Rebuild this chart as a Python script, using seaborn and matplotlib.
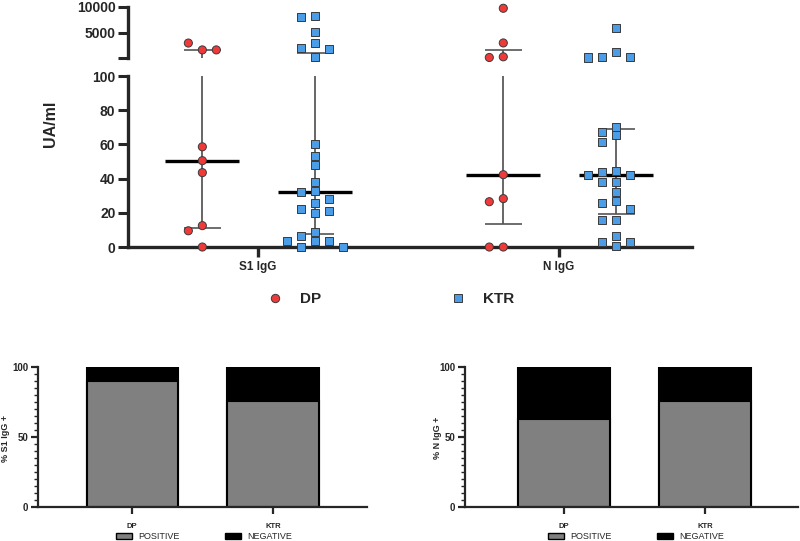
import numpy as np
import pandas as pd
import matplotlib
matplotlib.use('Agg')
import matplotlib.pyplot as plt
from matplotlib.lines import Line2D
from matplotlib.patches import Patch
from matplotlib.ticker import MultipleLocator
import seaborn as sns

# ---- data ----
assays = ['S1 IgG', 'N IgG']
groups = ['DP', 'KTR']

s1_dp = [1670, 3000, 1670, 58.6, 50.5, 43.5, 12.5, 9.5, 0]
s1_ktr = [8270, 8135, 5190, 3020, 1990, 1870, 250, 60.2, 53.2, 47.8, 38, 32.9, 32,
          28.3, 25.5, 22.4, 20.9, 19.7, 8.6, 6.6, 3.7, 3.7, 3.7, 0, 0]
n_dp = [9750, 3020, 330, 200, 42.3, 28.3, 26.5, 0, 0]
n_ktr = [5960, 1210, 330, 330, 200, 70.2, 67.4, 65.3, 61.6, 44.3, 43.9, 42.3, 42.3,
         38.2, 38, 32.2, 26.7, 25.9, 22.2, 16, 15.8, 6.6, 2.7, 2.7, 0.6]

pct_labels = ['% S1 IgG +', '% N IgG +']
s1_positive = [90, 76]
s1_negative = [10, 24]
n_positive = [63, 76]
n_negative = [37, 24]
status_labels = ['POSITIVE', 'NEGATIVE']

values = {('S1 IgG', 'DP'): s1_dp, ('S1 IgG', 'KTR'): s1_ktr,
          ('N IgG', 'DP'): n_dp, ('N IgG', 'KTR'): n_ktr}

# ---- style ----
red = '#F03A3A'
blue = '#4C9DE8'
grey_bar = '#808080'
group_offset = {'DP': -0.185, 'KTR': 0.19}
slot_w = 0.0465
split = 100


def spread(vals, px_per_unit, min_gap=8):
    # greedy column layout, like a scatter dot plot
    placed, slots = [], []
    for v in vals:
        y = v * px_per_unit
        for k in [0, -1, 1, -2, 2, -3, 3]:
            if all(abs(y - py) >= min_gap for py, s in placed if s == k):
                break
        placed.append((y, k))
        slots.append(k)
    return slots


rows = []
for i, assay in enumerate(assays):
    for g in groups:
        vals = values[(assay, g)]
        lo = [v for v in vals if v <= split]
        hi = [v for v in vals if v > split]
        for part, sub, ppu in [('lo', lo, 1.71), ('hi', hi, 51 / 9900)]:
            for v, k in zip(sub, spread(sub, ppu)):
                rows.append(dict(assay=assay, group=g, value=v, panel=part,
                                 x=i + group_offset[g] + k * slot_w))
df = pd.DataFrame(rows)

sns.set_style('ticks')
plt.rcParams['font.family'] = ['Liberation Sans', 'DejaVu Sans']

fig = plt.figure(figsize=(8, 5.41), dpi=100)
ax_hi = fig.add_axes([0.16, 0.8928, 0.705, 0.0943])
ax_lo = fig.add_axes([0.16, 0.5434, 0.705, 0.3161])
limits = {'hi': (100, 10000), 'lo': (0, 100)}

for ax, part in [(ax_hi, 'hi'), (ax_lo, 'lo')]:
    y0, y1 = limits[part]
    sns.scatterplot(data=df[df.panel == part], x='x', y='value', hue='group', style='group',
                    hue_order=groups, style_order=groups,
                    markers={'DP': 'o', 'KTR': 's'}, palette={'DP': red, 'KTR': blue},
                    s=34, edgecolor='#3a3a3a', linewidth=0.7, legend=False,
                    ax=ax, zorder=4, clip_on=False)
    # median with interquartile range
    for i, assay in enumerate(assays):
        for g in groups:
            q1, med, q3 = np.percentile(values[(assay, g)], [25, 50, 75], method='weibull')
            xc = i + group_offset[g]
            ax.vlines(xc, max(q1, y0), min(q3, y1), color='#4d4d4d', lw=1.2, zorder=2)
            for q in (q1, q3):
                if y0 <= q <= y1:
                    ax.hlines(q, xc - 0.061, xc + 0.061, color='#555555', lw=1.2, zorder=2)
            if y0 <= med <= y1:
                ax.hlines(med, xc - 0.123, xc + 0.123, color='black', lw=2.4, zorder=3)
    ax.set_xlim(-0.432, 1.442)
    ax.set_ylim(y0, y1)
    ax.set_xlabel('')
    ax.set_ylabel('')
    for s in ['top', 'right']:
        ax.spines[s].set_visible(False)
    ax.spines['left'].set_linewidth(2.4)
    ax.tick_params(axis='y', width=2.2, length=7, pad=2, labelsize=10)

ax_lo.set_yticks(range(0, 101, 20))
ax_lo.set_yticklabels([str(t) for t in range(0, 101, 20)], fontweight='bold')
ax_lo.set_xticks([0, 1])
ax_lo.set_xticklabels(assays, fontweight='bold', fontsize=8.5)
ax_lo.spines['bottom'].set_linewidth(2.4)
ax_lo.tick_params(axis='x', width=2.4, length=7, pad=3)

ax_hi.set_yticks([100, 5000, 10000])
ax_hi.set_yticklabels(['', '5000', '10000'], fontweight='bold')
ax_hi.spines['bottom'].set_visible(False)
ax_hi.set_xticks([])

fig.text(51 / 800, 1 - 124 / 541, 'UA/ml', rotation=90, ha='center', va='center',
         fontsize=11.5, fontweight='bold')

handles = [Line2D([], [], ls='', marker='o', markersize=6, markerfacecolor=red,
                  markeredgecolor='#3a3a3a', markeredgewidth=0.7),
           Line2D([], [], ls='', marker='s', markersize=6, markerfacecolor=blue,
                  markeredgecolor='#3a3a3a', markeredgewidth=0.7)]
fig.legend(handles, groups, loc='center', bbox_to_anchor=(387 / 800, 1 - 299 / 541), ncol=2,
           frameon=False, columnspacing=8, handletextpad=0.6, handlelength=2,
           prop={'weight': 'bold', 'size': 11})

# ---- stacked percentage bars ----
bar_specs = [
    ([0.0475, 0.0634, 0.411, 0.2582], s1_positive, s1_negative, pct_labels[0], (-0.67, 1.667), 6, 204),
    ([0.581, 0.0634, 0.416, 0.2582], n_positive, n_negative, pct_labels[1], (-0.706, 1.656), 437, 636),
]
for rect, pos, neg, lab, xl, lab_x, leg_x in bar_specs:
    ax = fig.add_axes(rect)
    total = [p + n for p, n in zip(pos, neg)]
    sns.barplot(x=groups, y=total, color='black', width=0.65, saturation=1,
                edgecolor='black', linewidth=1.5, ax=ax)
    sns.barplot(x=groups, y=pos, color=grey_bar, width=0.65, saturation=1,
                edgecolor='black', linewidth=1.5, ax=ax)
    ax.set_xlim(*xl)
    ax.set_ylim(0, 100)
    ax.set_yticks([0, 50, 100])
    ax.set_yticklabels(['0', '50', '100'], fontweight='bold', fontsize=7)
    ax.yaxis.set_minor_locator(MultipleLocator(5))
    ax.set_xticks([0, 1])
    ax.set_xticklabels(groups, fontweight='bold', fontsize=5.5)
    for s in ['top', 'right']:
        ax.spines[s].set_visible(False)
    for s in ['left', 'bottom']:
        ax.spines[s].set_linewidth(1.6)
    ax.tick_params(axis='both', which='major', width=1.6, length=5, pad=2)
    ax.tick_params(axis='x', which='major', pad=7)
    ax.tick_params(axis='y', which='minor', width=1.0, length=3)
    fig.text(lab_x / 800, 1 - 438 / 541, lab, rotation=90, ha='center', va='center',
             fontsize=6.5, fontweight='bold')
    leg_handles = [Patch(facecolor=grey_bar, edgecolor='black', lw=1),
                   Patch(facecolor='black', edgecolor='black', lw=1)]
    fig.legend(leg_handles, status_labels, loc='center', bbox_to_anchor=(leg_x / 800, 1 - 536.5 / 541),
               ncol=2, frameon=False, fontsize=6.5, handlelength=1.8, handleheight=0.6,
               handletextpad=0.7, columnspacing=5, borderpad=0.1)

fig.savefig('out.png', dpi=100)
